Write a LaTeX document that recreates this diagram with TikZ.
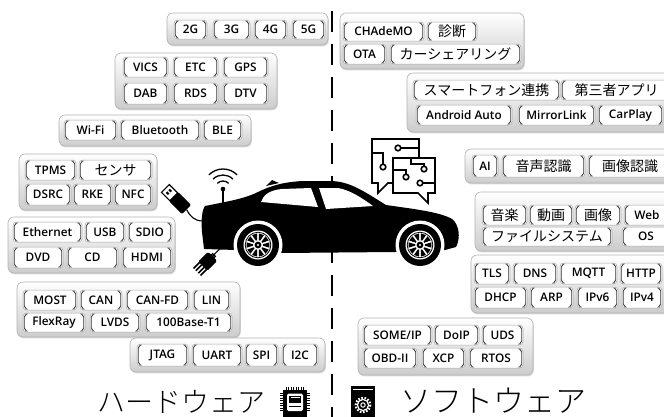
\documentclass[tikz,border=0pt]{standalone}
\usepackage{fontspec}
\usetikzlibrary{shadows}
\IfFontExistsTF{Open Sans SemiBold}
  {\newfontfamily\chipfont{Open Sans SemiBold}}
  {\IfFontExistsTF{Open Sans Semibold}
    {\newfontfamily\chipfont{Open Sans Semibold}}
    {\newfontfamily\chipfontbase{Open Sans}\newcommand\chipfont{\chipfontbase\bfseries}}}
\newfontfamily\jpfont{Noto Sans CJK JP}
\IfFontExistsTF{Noto Sans CJK JP Light}
  {\newfontfamily\jplight{Noto Sans CJK JP Light}}
  {\newfontfamily\jplight{Noto Sans CJK JP}}
\newcommand\jp[1]{{\jpfont\mdseries\fontsize{14}{15}\selectfont #1}}

\tikzset{
  chip/.style={rounded corners=3.5pt, draw=black!35, line width=0.5pt, fill=white,
    inner sep=0pt, font=\chipfont\fontsize{11.8}{13}\selectfont,
    path picture={
      \draw[black!80, line width=0.8pt, rounded corners=2pt]
        ([xshift=4.5pt,yshift=-0.7pt]path picture bounding box.north west)
        -- ([xshift=1.2pt,yshift=-2.2pt]path picture bounding box.north west)
        -- ([xshift=1.2pt,yshift=2.2pt]path picture bounding box.south west)
        -- ([xshift=4.5pt,yshift=0.7pt]path picture bounding box.south west);
      \draw[black!80, line width=0.8pt, rounded corners=2pt]
        ([xshift=-4.5pt,yshift=-0.7pt]path picture bounding box.north east)
        -- ([xshift=-1.2pt,yshift=-2.2pt]path picture bounding box.north east)
        -- ([xshift=-1.2pt,yshift=2.2pt]path picture bounding box.south east)
        -- ([xshift=-4.5pt,yshift=0.7pt]path picture bounding box.south east);
    }},
  panel/.style={rounded corners=6pt, draw=black!30, line width=0.6pt,
    top color=white, bottom color=black!20, inner sep=0pt,
    drop shadow={shadow xshift=0.8pt, shadow yshift=-1.4pt, opacity=0.3}},
  divider/.style={line width=2.4pt, dash pattern=on 21pt off 12pt},
  icon/.style={line width=1.6pt, line join=miter},
}
% box by its corners: name, x1, y1, x2, y2, text
\newcommand\chipbox[6]{\node[chip, minimum width={#4pt-#2pt}, minimum height={#5pt-#3pt}] (#1) at ({(#2+#4)/2},{(#3+#5)/2}) {#6};}
\newcommand\panelbox[5]{\node[panel, minimum width={#4pt-#2pt}, minimum height={#5pt-#3pt}] (#1) at ({(#2+#4)/2},{(#3+#5)/2}) {};}

\begin{document}
\begin{tikzpicture}[x=1pt,y=-1pt]
\useasboundingbox (0,0) rectangle (664,416);
\begin{scope}
\clip (0,0) rectangle (664,416);

% hardware / software divider
\coordinate (dtop) at (332,11);
\coordinate (dbot) at (332,420);
\draw[divider] (dtop) -- (dbot);

% ---------------- hardware side ----------------
\panelbox{g1}{167}{13}{328}{45}
\chipbox{c2g}{174}{20}{207}{39}{2G}
\chipbox{c3g}{213}{20}{250}{39}{3G}
\chipbox{c4g}{254}{20}{287}{39}{4G}
\chipbox{c5g}{292}{20}{325}{39}{5G}

\panelbox{g2}{115}{53}{277}{109}
\chipbox{vics}{123}{57}{168}{77}{VICS}
\chipbox{etc}{173}{57}{218}{77}{ETC}
\chipbox{gps}{223}{57}{268}{77}{GPS}
\chipbox{dab}{123}{83}{168}{104}{DAB}
\chipbox{rds}{173}{83}{218}{104}{RDS}
\chipbox{dtv}{223}{83}{268}{104}{DTV}

\panelbox{g3}{59}{115}{251}{146}
\chipbox{wifi}{64}{120}{117}{140}{Wi-Fi}
\chipbox{bt}{120}{120}{200}{140}{Bluetooth}
\chipbox{ble}{203}{120}{242}{140}{BLE}

\panelbox{g4}{19}{154}{157}{210}
\chipbox{tpms}{25}{160}{76}{180}{TPMS}
\chipbox{sensor}{79}{160}{152}{180}{\jp{センサ}}
\chipbox{dsrc}{25}{184}{71}{205}{DSRC}
\chipbox{rke}{73}{184}{112}{205}{RKE}
\chipbox{nfc}{114}{184}{152}{205}{NFC}

\panelbox{g5}{8}{217}{175}{273}
\chipbox{eth}{13}{222}{82}{242}{Ethernet}
\chipbox{usb}{85}{222}{125}{242}{USB}
\chipbox{sdio}{128}{222}{172}{242}{SDIO}
\chipbox{dvd}{13}{247}{63}{268}{DVD}
\chipbox{cd}{67}{247}{118}{268}{CD}
\chipbox{hdmi}{122}{247}{172}{268}{HDMI}

\panelbox{g6}{17}{282}{240}{337}
\chipbox{most}{23}{290}{77}{310}{MOST}
\chipbox{can}{80}{290}{122}{310}{CAN}
\chipbox{canfd}{126}{290}{189}{310}{CAN-FD}
\chipbox{lin}{193}{290}{230}{310}{LIN}
\chipbox{flexray}{23}{313}{85}{332}{FlexRay}
\chipbox{lvds}{90}{313}{140}{332}{LVDS}
\chipbox{bt1}{145}{313}{232}{332}{100Base-T1}

\panelbox{g7}{130}{338}{325}{372}
\chipbox{jtag}{137}{344}{188}{366}{JTAG}
\chipbox{uart}{192}{344}{242}{366}{UART}
\chipbox{spi}{245}{344}{278}{366}{SPI}
\chipbox{itc}{282}{344}{318}{366}{I2C}

% ---------------- software side ----------------
\panelbox{h1}{340}{13}{524}{69}
\chipbox{chademo}{343}{22}{424}{41}{CHAdeMO}
\chipbox{diag}{427}{22}{477}{41}{\jp{診断}}
\chipbox{ota}{343}{44}{386}{64}{OTA}
\chipbox{share}{390}{44}{521}{64}{\jp{カーシェアリング}}

\panelbox{h2}{407}{73}{672}{132}
\chipbox{phone}{413}{80}{560}{100}{\jp{スマートフォン連携}}
\chipbox{third}{561}{80}{672}{100}{\jp{第三者アプリ}}
\chipbox{aauto}{416}{105}{512}{125}{Android Auto}
\chipbox{mirror}{518}{105}{595}{125}{MirrorLink}
\chipbox{carplay}{598}{105}{663}{125}{CarPlay}

\panelbox{h3}{465}{149}{672}{183}
\chipbox{ai}{472}{155}{498}{177}{AI}
\chipbox{voice}{502}{155}{585}{177}{\jp{音声認識}}
\chipbox{vision}{588}{155}{672}{177}{\jp{画像認識}}

\panelbox{h4}{475}{192}{672}{251}
\chipbox{music}{482}{205}{527}{225}{\jp{音楽}}
\chipbox{video}{529}{205}{573}{225}{\jp{動画}}
\chipbox{image}{575}{205}{621}{225}{\jp{画像}}
\chipbox{web}{624}{205}{670}{225}{Web}
\chipbox{fs}{482}{227}{612}{246}{\jp{ファイルシステム}}
\chipbox{os}{622}{227}{670}{246}{OS}

\panelbox{h5}{471}{255}{672}{313}
\chipbox{tls}{474}{263}{510}{284}{TLS}
\chipbox{dns}{513}{263}{557}{284}{DNS}
\chipbox{mqtt}{560}{263}{617}{284}{MQTT}
\chipbox{http}{620}{263}{662}{284}{HTTP}
\chipbox{dhcp}{474}{287}{527}{308}{DHCP}
\chipbox{arp}{530}{287}{573}{308}{ARP}
\chipbox{ipsix}{577}{287}{618}{308}{IPv6}
\chipbox{ipfour}{622}{287}{662}{308}{IPv4}

\panelbox{h6}{358}{318}{533}{375}
\chipbox{someip}{363}{325}{432}{345}{SOME/IP}
\chipbox{doip}{434}{325}{479}{345}{DoIP}
\chipbox{uds}{482}{325}{523}{345}{UDS}
\chipbox{obd}{363}{348}{417}{368}{OBD-II}
\chipbox{xcp}{422}{348}{465}{368}{XCP}
\chipbox{rtos}{469}{348}{523}{368}{RTOS}

% ---------------- car ----------------
\fill[black] (204,249) -- (202,232) .. controls (201,220) and (202,210) .. (205,206)
  -- (225,202) .. controls (240,199) and (250,196) .. (258,192)
  .. controls (270,186) and (283,182) .. (303,181) -- (332,181)
  .. controls (350,182) and (362,190) .. (386,205)
  .. controls (414,209) and (440,212) .. (452,219)
  .. controls (459,224) and (461,238) .. (456,247)
  -- (445,250) -- (395,252) -- (280,253) -- (236,250) -- cycle;
% roof fin
\fill[black] (266,186) -- (272,180) -- (279,183) -- cycle;
% side windows
\fill[white] (261,202) .. controls (263,195) and (270,190) .. (282,189) -- (311,188) -- (318,207) -- cycle;
\fill[white] (319,188) -- (338,188) .. controls (350,190) and (362,198) .. (373,206) -- (326,209) -- cycle;
% wheels
\foreach \cx in {258,420}{
  \begin{scope}[shift={(\cx,245)}]
    \fill[white] (0,0) circle (24.5);
    \fill[black] (0,0) circle (21);
    \fill[white] (0,0) circle (14.5);
    \draw[black, line width=0.8pt] (0,0) circle (12.8);
    \foreach \a in {0,36,...,324}{
      \fill[black] ({\a-8}:4.8) -- ({\a-13}:11.6) arc[start angle={\a-13}, end angle={\a+13}, radius=11.6] -- ({\a+8}:4.8) -- cycle;
    }
    \fill[black] (0,0) circle (3.4);
    \fill[white] (0,0) circle (1.1);
  \end{scope}
}

% antenna with radio waves
\coordinate (ant) at (223,189);
\coordinate (antbase) at (223,203);
\draw[line width=1.3pt] (antbase) -- (ant);
\fill (ant) circle (2.3);
\foreach \r in {8,14,20}{
  \draw[line width=1.3pt] (ant) ++({-135}:\r) arc[start angle=-135, end angle=-45, radius=\r];
}

% USB plug
\coordinate (usbend) at (186.6,209.6);
\coordinate (usbin) at (203,221);
\begin{scope}[shift={(176,199)}, rotate=-45]
  \draw[line width=1.1pt, fill=white] (-15,-5.5) rectangle (-3,5.5);
  \fill (-11.5,-3) rectangle (-8.5,-0.8);
  \fill (-11.5,0.8) rectangle (-8.5,3);
  \fill[rounded corners=2pt] (-3.5,-6.5) rectangle (15,6.5);
\end{scope}
\draw[line width=1.1pt] (usbend) .. controls (190,216) and (194,221) .. (usbin);

% connector plug with pins
\coordinate (plugend) at (213,256);
\coordinate (plugin) at (223,246);
\begin{scope}[shift={(207,262)}, rotate=45]
  \fill[rounded corners=1.5pt] (-6,-6.5) rectangle (8,6.5);
  \foreach \p in {-5,-1.7,1.7,5}{
    \draw[line width=1.6pt] (-6,\p) -- (-14,\p);
  }
  \draw[line width=1.2pt] (8,-2) rectangle (10,2);
\end{scope}
\draw[line width=1.1pt] (plugend) .. controls (216,252) and (220,249) .. (plugin);

% chat bubbles with circuit traces
\draw[icon, fill=white] (372,139) -- (419,139) -- (419,183) -- (388,183) -- (378,193) -- (378,183) -- (372,183) -- cycle;
\draw[icon] (372,153) -- (383,153) -- (383,164.2);
\draw[icon] (383,167) circle (2.8);
\draw[icon] (400.8,148) -- (419,148);
\draw[icon] (398,148) circle (2.8);
\draw[icon, fill=white] (393,158) -- (435,158) -- (435,193) -- (428,193) -- (428,203) -- (418,193) -- (393,193) -- cycle;
\draw[icon] (393,170) -- (406,170) -- (406,174.2);
\draw[icon] (406,177) circle (2.8);
\draw[icon] (411,158) -- (411,164) -- (424,164) -- (424,166.2);
\draw[icon] (424,169) circle (2.8);
\draw[icon] (422.8,183) -- (435,183);
\draw[icon] (420,183) circle (2.8);

% ---------------- section labels ----------------
\node[anchor=base east, inner sep=0pt] (hwlabel) at (266,412) {\jplight\fontsize{28}{30}\selectfont ハードウェア};
\node[anchor=base west, inner sep=0pt] (swlabel) at (400,412) {\jplight\fontsize{31}{33}\selectfont ソフトウェア};

% chip icon
\begin{scope}[shift={(295,402)}]
  \foreach \t in {-9,-6.5,...,9}{
    \draw[line width=0.5pt] (\t,-12) -- (\t,-15);
    \draw[line width=0.5pt] (-12,\t) -- (-15,\t);
    \draw[line width=0.5pt] (12,\t) -- (15,\t);
  }
  \fill (-12,-12) rectangle (12,16);
  \fill[white, rounded corners=1.5pt] (-8,-8.5) rectangle (8,9);
  \fill (-6,-6.5) rectangle (6,0.5);
  \draw[white, line width=0.6pt] (-4.5,-4.5) -- (4.5,-4.5);
  \draw[line width=1.4pt] (-6,4.5) -- (6,4.5);
\end{scope}

% software window icon
\begin{scope}[shift={(363,402)}]
  \fill (-12,-16) rectangle (12,16);
  \draw[white, line width=0.6pt] (-10,-12.5) -- (10,-12.5);
  \draw[white, line width=2.2pt, dash pattern=on 1.6pt off 1.6pt] (0,3) circle (7.2);
  \draw[white, line width=1.2pt] (0,3) circle (5.6);
  \draw[white, line width=1pt] (0,3) circle (2.2);
\end{scope}

\end{scope}
\end{tikzpicture}
\end{document}
